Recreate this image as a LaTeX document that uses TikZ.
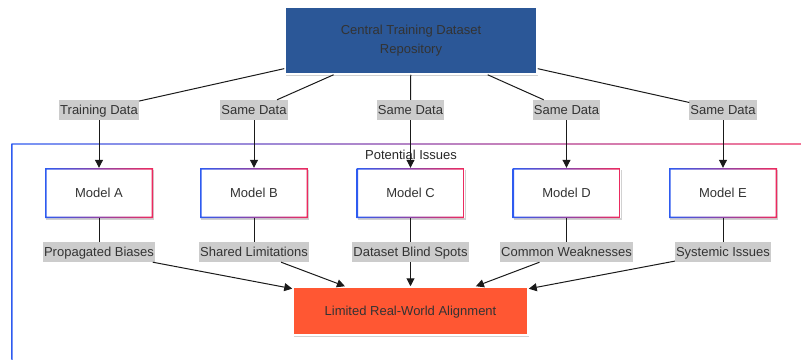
\documentclass[tikz,border=0pt]{standalone}
\usepackage{fontspec}
\setmainfont{Liberation Sans}
\usetikzlibrary{arrows.meta,shadows}
\definecolor{gblue}{HTML}{2E5BF0}
\definecolor{gpink}{HTML}{EE2A5E}
\definecolor{repoblue}{HTML}{2B5797}
\definecolor{alertred}{HTML}{FF5733}
\definecolor{inktext}{HTML}{333333}
\definecolor{lblgray}{HTML}{CCCCCC}
\definecolor{edgeink}{HTML}{1A1A1A}

\begin{document}
\begin{tikzpicture}[x=1pt,y=-1pt,
  every node/.style={font=\fontsize{13}{19.5}\selectfont, text=inktext,
    text height=11pt, text depth=1.7pt},
  softshadow/.style={drop shadow={shadow xshift=1pt, shadow yshift=-1.5pt, opacity=0.18, fill=black}},
  repo/.style={fill=repoblue, draw=white, line width=1.5pt, minimum width=252pt,
    minimum height=67pt, align=center, text height=28.6pt, text depth=1.7pt, softshadow},
  model/.style={fill=white, minimum width=108pt, minimum height=50pt, softshadow,
    path picture={\shade[left color=gblue, right color=gpink, even odd rule]
      (path picture bounding box.south west) rectangle (path picture bounding box.north east)
      ([shift={(1.5pt,1.5pt)}]path picture bounding box.south west) rectangle
      ([shift={(-1.5pt,-1.5pt)}]path picture bounding box.north east);}},
  lbl/.style={fill=lblgray, inner xsep=1pt, inner ysep=0pt, minimum height=20pt},
  outcome/.style={fill=alertred, draw=white, line width=1.5pt, minimum width=235pt,
    minimum height=48pt, softshadow},
  link/.style={draw=edgeink, line width=1pt},
  arrow/.style={link, -{Triangle[length=8pt,width=8pt]}}
]
\useasboundingbox (0,0) rectangle (801,359);
\clip (0,0) rectangle (801,359);

% "Potential Issues" group frame with blue-to-pink border
\shade[left color=gblue, right color=gpink, even odd rule]
  (11.3,143.3) rectangle (812,372) (12.7,144.7) rectangle (810.6,370.6);
\node[text=black!85] (title) at (411,154.5) {Potential Issues};

% shared dataset
\node[repo] (repo) at (411,40.5) {Central Training Dataset\\Repository};

% data labels
\node[lbl] (dA) at (99,110) {Training Data};
\node[lbl] (dB) at (254,110) {Same Data};
\node[lbl] (dC) at (410.5,110) {Same Data};
\node[lbl] (dD) at (566.5,110) {Same Data};
\node[lbl] (dE) at (723,110) {Same Data};

% models
\node[model] (mA) at (99,193) {Model A};
\node[model] (mB) at (254,193) {Model B};
\node[model] (mC) at (410.5,193) {Model C};
\node[model] (mD) at (566.5,193) {Model D};
\node[model] (mE) at (723,193) {Model E};

% issue labels
\node[lbl] (iA) at (99,252) {Propagated Biases};
\node[lbl] (iB) at (254,252) {Shared Limitations};
\node[lbl] (iC) at (410.5,252) {Dataset Blind Spots};
\node[lbl] (iD) at (566.5,252) {Common Weaknesses};
\node[lbl] (iE) at (723,252) {Systemic Issues};

% outcome
\node[outcome] (out) at (410.5,311) {Limited Real-World Alignment};

% connectors
\foreach \k in {A,B,C,D,E} {
  \draw[link] (repo) -- (d\k);
  \draw[arrow] (d\k) -- (m\k);
  \draw[link] (m\k) -- (i\k);
  \draw[arrow] (i\k) -- (out);
}
\end{tikzpicture}
\end{document}
